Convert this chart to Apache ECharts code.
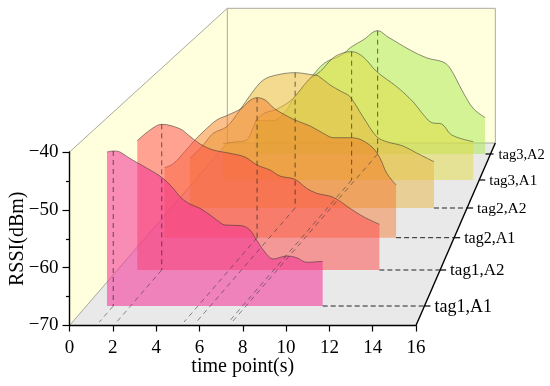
<!DOCTYPE html>
<html><head><meta charset="utf-8">
<style>html,body{margin:0;padding:0;background:#fff}#c{width:550px;height:386px}</style>
<script src="https://cdn.jsdelivr.net/npm/echarts@6/dist/echarts.min.js"></script>
</head><body><div id="c"></div>
<script>
const rowNames = ['tag1,A1','tag1,A2','tag2,A1','tag2,A2','tag3,A1','tag3,A2'];
const xTicksMax = 16;
const t1a1Time = [0.95,1.24,1.55,1.93,2.35,2.94,3.48,3.94,4.40,4.78,5.25,5.71,6.02,6.40,7.17,7.55,7.86,8.25,8.63,9.25,9.71,10.17,10.91];
const t1a1Rssi = [-43.37,-43.2,-43.37,-44.29,-45.22,-46.48,-47.75,-49.37,-51.38,-52.36,-53.11,-54.26,-55.13,-56.0,-56.11,-56.86,-58.59,-60.71,-61.87,-61.35,-61.65,-62.44,-62.27];
const t1a2Time = [0.91,1.50,2.04,2.88,3.27,3.81,4.42,5.19,5.88,6.43,7.04,7.50,8.19,8.73,9.20,9.96,10.73,11.35,12.09];
const t1a2Rssi = [-47.64,-45.79,-44.81,-45.57,-46.66,-48.21,-49.25,-49.82,-50.46,-51.84,-52.71,-53.75,-54.32,-55.87,-56.74,-57.43,-59.33,-60.78,-62.10];
const t2a1Time = [0.87,1.28,1.74,2.28,2.75,3.29,3.82,4.44,4.82,5.15,5.52,5.98,6.90,7.60,8.21,8.67,9.52,9.98,10.52,10.83,11.14,11.57];
const t2a1Rssi = [-57.90,-57.20,-55.41,-53.11,-51.38,-49.65,-48.78,-47.62,-46.28,-45.79,-46.19,-47.75,-49.65,-50.68,-51.95,-52.71,-52.71,-53.11,-54.54,-56.27,-58.86,-60.89];
const t2a2Time = [0.87,1.41,1.94,2.56,3.17,3.71,4.25,4.87,5.72,6.55,6.79,7.33,7.87,8.25,8.85,9.49,9.95,10.70,11.33,12.13];
const t2a2Rssi = [-61.41,-59.40,-57.08,-55.94,-53.05,-50.17,-47.87,-47.0,-46.60,-47.0,-47.17,-48.73,-49.89,-50.75,-54.21,-57.67,-58.54,-59.28,-60.49,-61.99];
const t3a1Time = [1.28,1.82,2.36,2.83,3.21,3.75,4.52,5.21,5.75,6.35,6.81,7.21,7.73,8.37,9.29,10.04,10.60,10.91,11.37,11.83,12.83];
const t3a1Rssi = [-63.69,-63.43,-63.08,-59.62,-58.41,-57.77,-55.87,-52.71,-51.27,-48.90,-48.04,-47.81,-48.68,-51.27,-53.87,-56.46,-59.05,-60.09,-60.32,-62.22,-63.38];
const t3a2Time = [1.71,2.54,3.17,3.46,4.39,4.94,5.71,6.17,6.70,7.37,7.85,8.87,9.65,10.39,10.71,11.31,11.77,12.33];
const t3a2Rssi = [-64.24,-64.24,-62.39,-60.49,-56.34,-54.21,-52.88,-51.45,-50.29,-48.68,-49.77,-52.02,-53.40,-54.09,-55.13,-59.28,-62.05,-63.72];

const rowTimes = [t1a1Time,t1a2Time,t2a1Time,t2a2Time,t3a1Time,t3a2Time];
const rowRssi = [t1a1Rssi,t1a2Rssi,t2a1Rssi,t2a2Rssi,t3a1Rssi,t3a2Rssi];
const rowFills = ['rgba(245,50,150,0.56)','rgba(255,70,70,0.5)','rgba(245,105,25,0.42)','rgba(232,182,66,0.5)','rgba(228,220,66,0.5)','rgba(168,232,76,0.5)'];

// layout
const F = {left:69.5, top:152, width:346.5, height:173.5};
const rowDepth = [19.5,55.5,87.8,117.5,145.5,171.5];
const SHEAR = 0.866;
const labelSizes = [18,17,16,15.5,15,14.5];
const labelGap = [10,10,10,10,10,8];
const tickStart = [0,0,0,0,0,-5];
const FONT = '"Liberation Serif","Times New Roman",serif';

const grids = [{left:F.left,top:F.top,width:F.width,height:F.height,outerBoundsMode:'none'}];
const xAxes = [{type:'value',gridIndex:0,min:0,max:xTicksMax,interval:2,z:30,
  axisLine:{show:true,onZero:false,lineStyle:{color:'#000',width:1.4}},
  axisTick:{show:true,length:6,lineStyle:{color:'#000',width:1.2}},
  axisLabel:{color:'#000',fontFamily:FONT,fontSize:19,margin:13,hideOverlap:false},
  splitLine:{show:false},
  name:'time point(s)',nameLocation:'middle',nameGap:31,nameMoveOverlap:false,
  nameTextStyle:{color:'#000',fontFamily:FONT,fontSize:20}}];
const yAxes = [{type:'value',gridIndex:0,min:-70,max:-40,interval:10,z:30,
  axisLine:{show:true,onZero:false,lineStyle:{color:'#000',width:1.4}},
  axisTick:{show:true,length:7,lineStyle:{color:'#000',width:1.2}},
  minorTick:{show:true,splitNumber:2,length:3.5,lineStyle:{color:'#000',width:1.2}},
  axisLabel:{color:'#000',fontFamily:FONT,fontSize:19,margin:11,formatter:v=>'\u2212'+Math.abs(v)},
  splitLine:{show:false},minorSplitLine:{show:false},
  name:'RSSI(dBm)',nameLocation:'middle',nameGap:42,nameRotate:90,nameMoveOverlap:false,
  nameTextStyle:{color:'#000',fontFamily:FONT,fontSize:20}}];

const series = [];
// walls and floor
series.push({type:'custom',xAxisIndex:0,yAxisIndex:0,z:0,silent:true,data:[0],
  renderItem(p,api){
    const a=api.coord([0,-70]),b=api.coord([16,-70]),c=api.coord([0,-40]);
    const back=[227.3,143,495.3,8.3];
    const bl=[back[0],back[1]],br=[back[2],back[1]],tl=[back[0],back[3]],tr=[back[2],back[3]];
    const poly=(pts,fill)=>({type:'polygon',shape:{points:pts},style:{fill}});
    const edge=(p1,p2)=>({type:'line',shape:{x1:p1[0],y1:p1[1],x2:p2[0],y2:p2[1]},style:{stroke:'#a9a9a0',lineWidth:1}});
    return {type:'group',children:[
      poly([a,c,tl,bl],'#ffffdd'),poly([bl,tl,tr,br],'#ffffdd'),poly([a,b,br,bl],'#e9e9e9'),
      edge(c,tl),edge(a,bl),edge(bl,tl),edge(tl,tr),edge(tr,br),edge(bl,br)]};
  }});

rowNames.forEach((name,i)=>{
  const d=rowDepth[i], g=i+1;
  grids.push({left:F.left+SHEAR*d,top:F.top-d,width:F.width,height:F.height,outerBoundsMode:'none'});
  xAxes.push({type:'value',gridIndex:g,min:0,max:xTicksMax,show:false});
  yAxes.push({type:'value',gridIndex:g,min:-70,max:-40,show:false});
  series.push({type:'line',name,xAxisIndex:g,yAxisIndex:g,z:10-i,smooth:0.35,symbol:'none',clip:false,silent:true,
    data:rowTimes[i].map((t,k)=>[t,rowRssi[i][k]]),
    lineStyle:{color:'rgba(50,50,50,0.6)',width:0.9},
    areaStyle:{color:rowFills[i],origin:'start',opacity:1}});
});

// overlay: dashed guides, depth axis, labels
series.push({type:'custom',xAxisIndex:0,yAxisIndex:0,z:20,silent:true,data:[0],
  renderItem(p,api){
    const a=api.coord([16,-70]);
    const axisAt=dy=>a[0]+dy*79.3/182.5;
    const kids=[];
    const line=(x1,y1,x2,y2,stroke,dash,w)=>kids.push({type:'line',shape:{x1,y1,x2,y2},style:{stroke,lineDash:dash,lineWidth:w||1}});
    kids.push({type:'line',shape:{x1:a[0],y1:a[1],x2:axisAt(182.5),y2:a[1]-182.5},style:{stroke:'#000',lineWidth:1.4}});
    rowNames.forEach((name,i)=>{
      const d=rowDepth[i], rssi=rowRssi[i], times=rowTimes[i];
      const k=rssi.indexOf(Math.max(...rssi));
      const top=api.coord([times[k],rssi[k]]), base=api.coord([times[k],-70]);
      const dx=SHEAR*d;
      line(top[0]+dx,top[1]-d,base[0]+dx,base[1]-d,'rgba(40,40,40,0.7)',[5,4]);
      line(base[0]+dx,base[1]-d,base[0]+SHEAR*3.5,base[1]-3.5,'rgba(50,50,50,0.55)',[5,4]);
      const endX=api.coord([times[times.length-1],-70])[0]+dx, y=a[1]-d, ax=axisAt(d);
      if(i<4) line(endX,y,ax,y,'#222',[5,3]);
      line(ax+tickStart[i],y,ax+tickStart[i]+(i===5?8:6),y,'#000',null,1.2);
      kids.push({type:'text',style:{text:name,x:ax+labelGap[i],y:y+1,font:labelSizes[i]+'px '+FONT,fill:'#000',verticalAlign:'middle',align:'left'}});
    });
    return {type:'group',children:kids};
  }});

const chart=echarts.init(document.getElementById('c'),null,{renderer:'canvas'});
chart.setOption({animation:false,backgroundColor:'#fff',grid:grids,xAxis:xAxes,yAxis:yAxes,series});
</script></body></html>
